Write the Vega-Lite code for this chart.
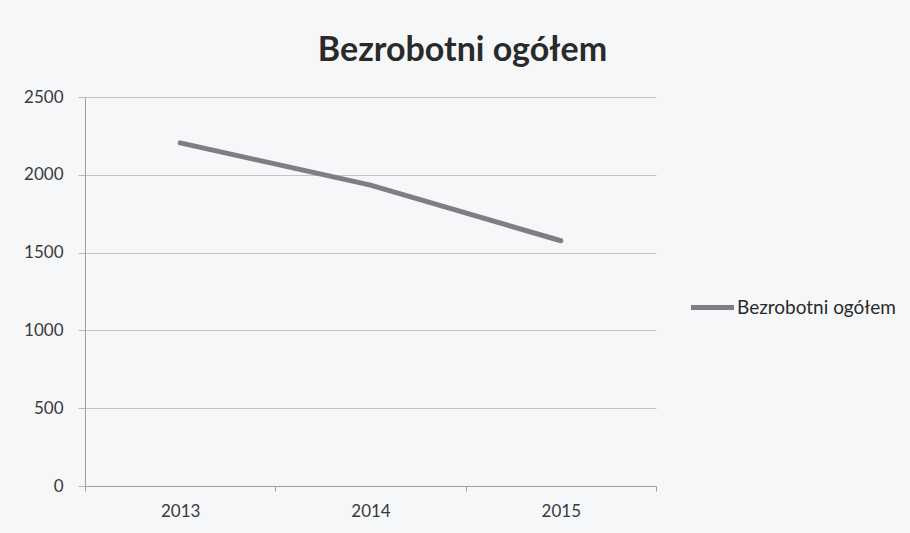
{
  "$schema": "https://vega.github.io/schema/vega-lite/v6.json",
  "width": 571,
  "height": 389,
  "autosize": {"type": "none"},
  "padding": {"left": 85, "top": 97, "right": 254, "bottom": 47},
  "background": "#f6f7f9",
  "title": {
    "text": "Bezrobotni ogółem",
    "font": "Lato",
    "fontSize": 34,
    "fontWeight": "bold",
    "color": "#2a2a2a",
    "anchor": "middle",
    "dx": 92,
    "offset": 20
  },
  "data": {
    "values": [
      {"rok": "2013", "wartosc": 2205, "seria": "Bezrobotni ogółem"},
      {"rok": "2014", "wartosc": 1934, "seria": "Bezrobotni ogółem"},
      {"rok": "2015", "wartosc": 1576, "seria": "Bezrobotni ogółem"}
    ]
  },
  "mark": {"type": "line", "strokeWidth": 5, "strokeCap": "round"},
  "encoding": {
    "x": {
      "field": "rok",
      "type": "ordinal",
      "bandPosition": 0.5,
      "scale": {"type": "band", "paddingInner": 0, "paddingOuter": 0},
      "axis": {
        "title": null,
        "labelAngle": 0,
        "labelFont": "Lato",
        "labelFontSize": 17,
        "labelColor": "#3a3a3a",
        "labelPadding": 12,
        "tickBand": "extent",
        "tickSize": 5,
        "tickColor": "#a0a0a0",
        "domainColor": "#a0a0a0",
        "grid": false
      }
    },
    "y": {
      "field": "wartosc",
      "type": "quantitative",
      "scale": {"domain": [0, 2500]},
      "axis": {
        "title": null,
        "values": [0, 500, 1000, 1500, 2000, 2500],
        "format": "d",
        "labelFont": "Lato",
        "labelFontSize": 17,
        "labelColor": "#3a3a3a",
        "labelPadding": 15,
        "tickSize": 7,
        "tickColor": "#b8b8b8",
        "domainColor": "#a0a0a0",
        "gridColor": "#c4c4c4",
        "gridWidth": 1.2
      }
    },
    "color": {
      "field": "seria",
      "type": "nominal",
      "scale": {"range": ["#7e7f82"]},
      "legend": {
        "title": null,
        "orient": "none",
        "legendX": 603,
        "legendY": 186,
        "symbolType": "stroke",
        "symbolSize": 1850,
        "symbolStrokeWidth": 5,
        "labelFont": "Lato",
        "labelFontSize": 19,
        "labelColor": "#2a2a2a",
        "labelOffset": 0
      }
    }
  },
  "config": {"view": {"stroke": null}}
}
